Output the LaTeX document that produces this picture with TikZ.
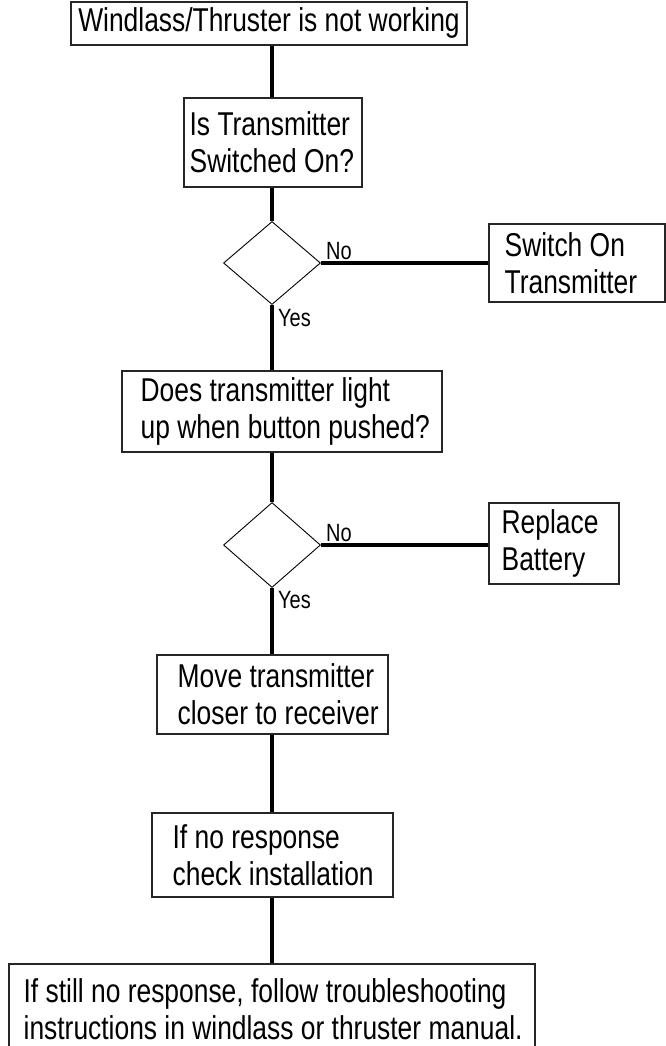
\documentclass[tikz,border=0pt]{standalone}
\usepackage{fontspec}
\setmainfont[FakeStretch=0.8]{Liberation Sans}
\usetikzlibrary{shapes.geometric}
\begin{document}
\begin{tikzpicture}[x=1pt,y=-1pt,
  box/.style={draw=black!85, line width=1.1pt, rectangle, inner sep=0pt},
  txt/.style={font=\fontsize{33}{37}\selectfont, align=left, inner sep=0pt, anchor=west},
  dia/.style={draw=black, line width=0.9pt, diamond, inner sep=0pt},
  conn/.style={line width=4.5pt, black},
  lab/.style={font=\fontsize{25}{25}\selectfont, inner sep=0pt}]
\useasboundingbox (0,0) rectangle (666,1046);
% boxes
\node[box, minimum width=396pt, minimum height=43pt] (b1) at (269,23.5) {};
\node[txt, anchor=center] (t1) at ([yshift=1pt]b1.center) {Windlass/Thruster is not working};
\node[box, minimum width=178pt, minimum height=89pt] (b2) at (273,142.5) {};
\node[txt] (t2) at ([xshift=6pt]b2.west) {Is Transmitter\\Switched On?};
\node[dia, minimum width=97pt, minimum height=83pt] (d1) at (272,263) {};
\node[box, minimum width=176pt, minimum height=78pt] (b3) at (577,263) {};
\node[txt] (t3) at ([xshift=16pt]b3.west) {Switch On\\Transmitter};
\node[box, minimum width=320pt, minimum height=81pt] (b4) at (282,411.5) {};
\node[txt] (t4) at ([xshift=19pt]b4.west) {Does transmitter light\\up when button pushed?};
\node[dia, minimum width=97pt, minimum height=85pt] (d2) at (272,545) {};
\node[box, minimum width=130pt, minimum height=81pt] (b5) at (554,543.5) {};
\node[txt] (t5) at ([xshift=13pt]b5.west) {Replace\\Battery};
\node[box, minimum width=231pt, minimum height=79pt] (b6) at (272.5,694.5) {};
\node[txt] (t6) at ([xshift=21pt]b6.west) {Move transmitter\\closer to receiver};
\node[box, minimum width=241pt, minimum height=84pt] (b7) at (272.5,855) {};
\node[txt] (t7) at ([xshift=21pt]b7.west) {If no response\\check installation};
\node[box, minimum width=526pt, minimum height=96pt] (b8) at (272,1012) {};
\node[txt, anchor=north west] (t8) at ([xshift=15pt,yshift=-15pt]b8.north west) {If still no response, follow troubleshooting\\instructions in windlass or thruster manual.};
% labels
\node[lab, anchor=south west] (no1) at (326,260) {No};
\node[lab, anchor=north west] (yes1) at (278,309) {Yes};
\node[lab, anchor=south west] (no2) at (326,542) {No};
\node[lab, anchor=north west] (yes2) at (278,591) {Yes};
% connectors
\draw[conn] (d1.north |- b1.south) -- (d1.north |- b2.north);
\draw[conn] (d1.north |- b2.south) -- (d1.north);
\draw[conn] (d1.east) -- (b3.west);
\draw[conn] (d1.south) -- (d1.south |- b4.north);
\draw[conn] (d2.north |- b4.south) -- (d2.north);
\draw[conn] (d2.east) -- (d2.east -| b5.west);
\draw[conn] (d2.south) -- (d2.south |- b6.north);
\draw[conn] (d2.south |- b6.south) -- (d2.south |- b7.north);
\draw[conn] (d2.south |- b7.south) -- (d2.south |- b8.north);
\end{tikzpicture}
\end{document}
